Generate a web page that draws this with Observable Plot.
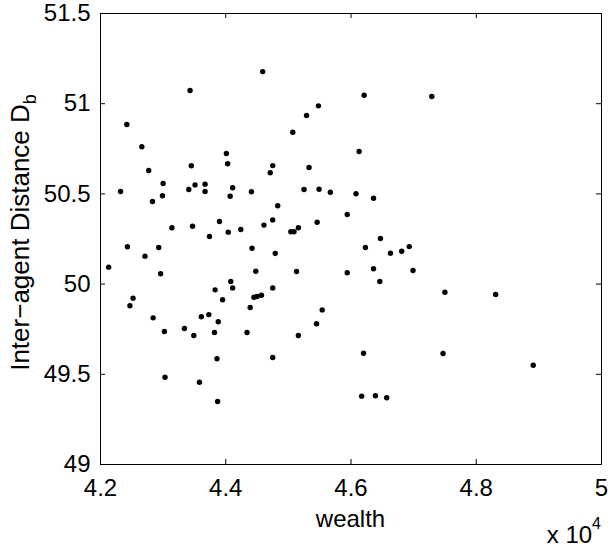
<!DOCTYPE html>
<html>
<head>
<meta charset="utf-8">
<script src="https://cdn.jsdelivr.net/npm/d3@7"></script>
<script src="https://cdn.jsdelivr.net/npm/@observablehq/plot@0.6"></script>
<style>
  html, body { margin: 0; padding: 0; background: #fff; }
  #chart { width: 610px; height: 550px; }
</style>
</head>
<body>
<div id="chart"></div>
<script>
// wealth (raw units; axis shows ×10^4)
const wealth = [
  44590, 43430, 42420, 45480, 45290, 45070, 42660, 44010, 44030, 43450,
  44750, 44710, 45330, 42770, 43000, 43510, 43670, 42320, 43410, 43670,
  44110, 44070, 44410, 45250, 45490, 45670, 42830, 42990, 44830, 45940,
  43140, 43470, 43900, 43740, 44040, 44240, 44610, 44750, 45040, 45090,
  45160, 45460, 46210, 47290, 46130, 46080, 46360, 46470, 42430, 42930,
  42710, 44420, 44790, 42130, 42960, 44480, 45130, 45940, 44080, 44110,
  43830, 44750, 42520, 42470, 43950, 44450, 44500, 44570, 44390, 42840,
  43610, 43730, 43880, 43020, 43340, 43490, 43820, 44340, 45540, 45450,
  45160, 43860, 44750, 43030, 43580, 43870, 46230, 46630, 46810, 46930,
  46360, 46990, 46460, 47500, 48310, 46200, 47470, 48910, 46170, 46390,
  46570
];
// inter-agent distance D_b
const distance = [
  51.178, 51.073, 50.885, 50.988, 50.935, 50.842, 50.761, 50.724, 50.667, 50.656,
  50.657, 50.617, 50.646, 50.630, 50.558, 50.550, 50.554, 50.513, 50.524, 50.513,
  50.534, 50.487, 50.512, 50.524, 50.526, 50.509, 50.458, 50.490, 50.434, 50.386,
  50.312, 50.321, 50.347, 50.264, 50.288, 50.303, 50.327, 50.356, 50.290, 50.290,
  50.312, 50.343, 51.047, 51.040, 50.735, 50.501, 50.476, 50.253, 50.207, 50.203,
  50.155, 50.199, 50.170, 50.094, 50.057, 50.071, 50.070, 50.063, 50.014, 49.979,
  49.968, 49.979, 49.922, 49.880, 49.913, 49.927, 49.931, 49.938, 49.870, 49.813,
  49.819, 49.831, 49.791, 49.737, 49.754, 49.715, 49.732, 49.732, 49.857, 49.780,
  49.715, 49.586, 49.593, 49.484, 49.456, 49.349, 50.203, 50.171, 50.182, 50.208,
  50.085, 50.075, 50.014, 49.955, 49.942, 49.617, 49.615, 49.550, 49.379, 49.381,
  49.370
];
const xTicks = [42000, 44000, 46000, 48000, 50000];
const yTicks = [49, 49.5, 50, 50.5, 51, 51.5];
const xLabel = "wealth";
const yLabel = "Inter\u2212agent Distance D";
const ySub = "b";

const W = 610, H = 550;
const mL = 100, mR = 9, mT = 13, mB = 86;
const pw = W - mL - mR, ph = H - mT - mB;
const tick = 5;
const fs = 24;
const data = wealth.map((w, i) => ({w, d: distance[i]}));
const ink = {stroke: "black", strokeOpacity: 1, strokeWidth: 1};
const font = "'Liberation Sans', Arial, Helvetica, sans-serif";

const chart = Plot.plot({
  width: W, height: H,
  marginLeft: mL, marginRight: mR, marginTop: mT, marginBottom: mB,
  style: {fontFamily: font, fontSize: fs + "px", background: "#fff", color: "#000"},
  x: {domain: [42000, 50000]},
  y: {domain: [49, 51.5]},
  marks: [
    Plot.gridX(xTicks, {...ink, insetTop: ph - tick}),
    Plot.gridX(xTicks, {...ink, insetBottom: ph - tick}),
    Plot.gridY(yTicks, {...ink, insetRight: pw - tick}),
    Plot.gridY(yTicks, {...ink, insetLeft: pw - tick}),
    Plot.frame({stroke: "black", strokeWidth: 1}),
    Plot.axisX(xTicks, {anchor: "bottom", tickSize: 0, tickPadding: 14, tickFormat: d => String(d / 1e4), label: null}),
    Plot.axisY(yTicks, {anchor: "left", tickSize: 0, tickPadding: 10, tickFormat: d => String(d), label: null}),
    Plot.dot(data, {x: "w", y: "d", r: 2.7, fill: "black", stroke: null})
  ]
});
document.getElementById("chart").appendChild(chart);

const svg = d3.select(chart);
svg.append("text")
  .attr("x", mL + pw / 2).attr("y", 527)
  .attr("text-anchor", "middle").attr("font-family", font).attr("font-size", fs).attr("fill", "#000")
  .text(xLabel);
const mult = svg.append("text")
  .attr("x", 601).attr("y", 543)
  .attr("text-anchor", "end")
  .attr("font-family", font).attr("font-size", fs).attr("fill", "#000");
mult.append("tspan").text("x 10");
mult.append("tspan").attr("dy", -14).attr("font-size", 16).text("4");
const yl = svg.append("text")
  .attr("transform", `translate(29,${mT + ph / 2 - 6}) rotate(-90)`)
  .attr("text-anchor", "middle").attr("font-family", font).attr("font-size", 26).attr("fill", "#000");
yl.append("tspan").text(yLabel);
yl.append("tspan").attr("dy", 7).attr("font-size", 18).text(ySub);
</script>
</body>
</html>
